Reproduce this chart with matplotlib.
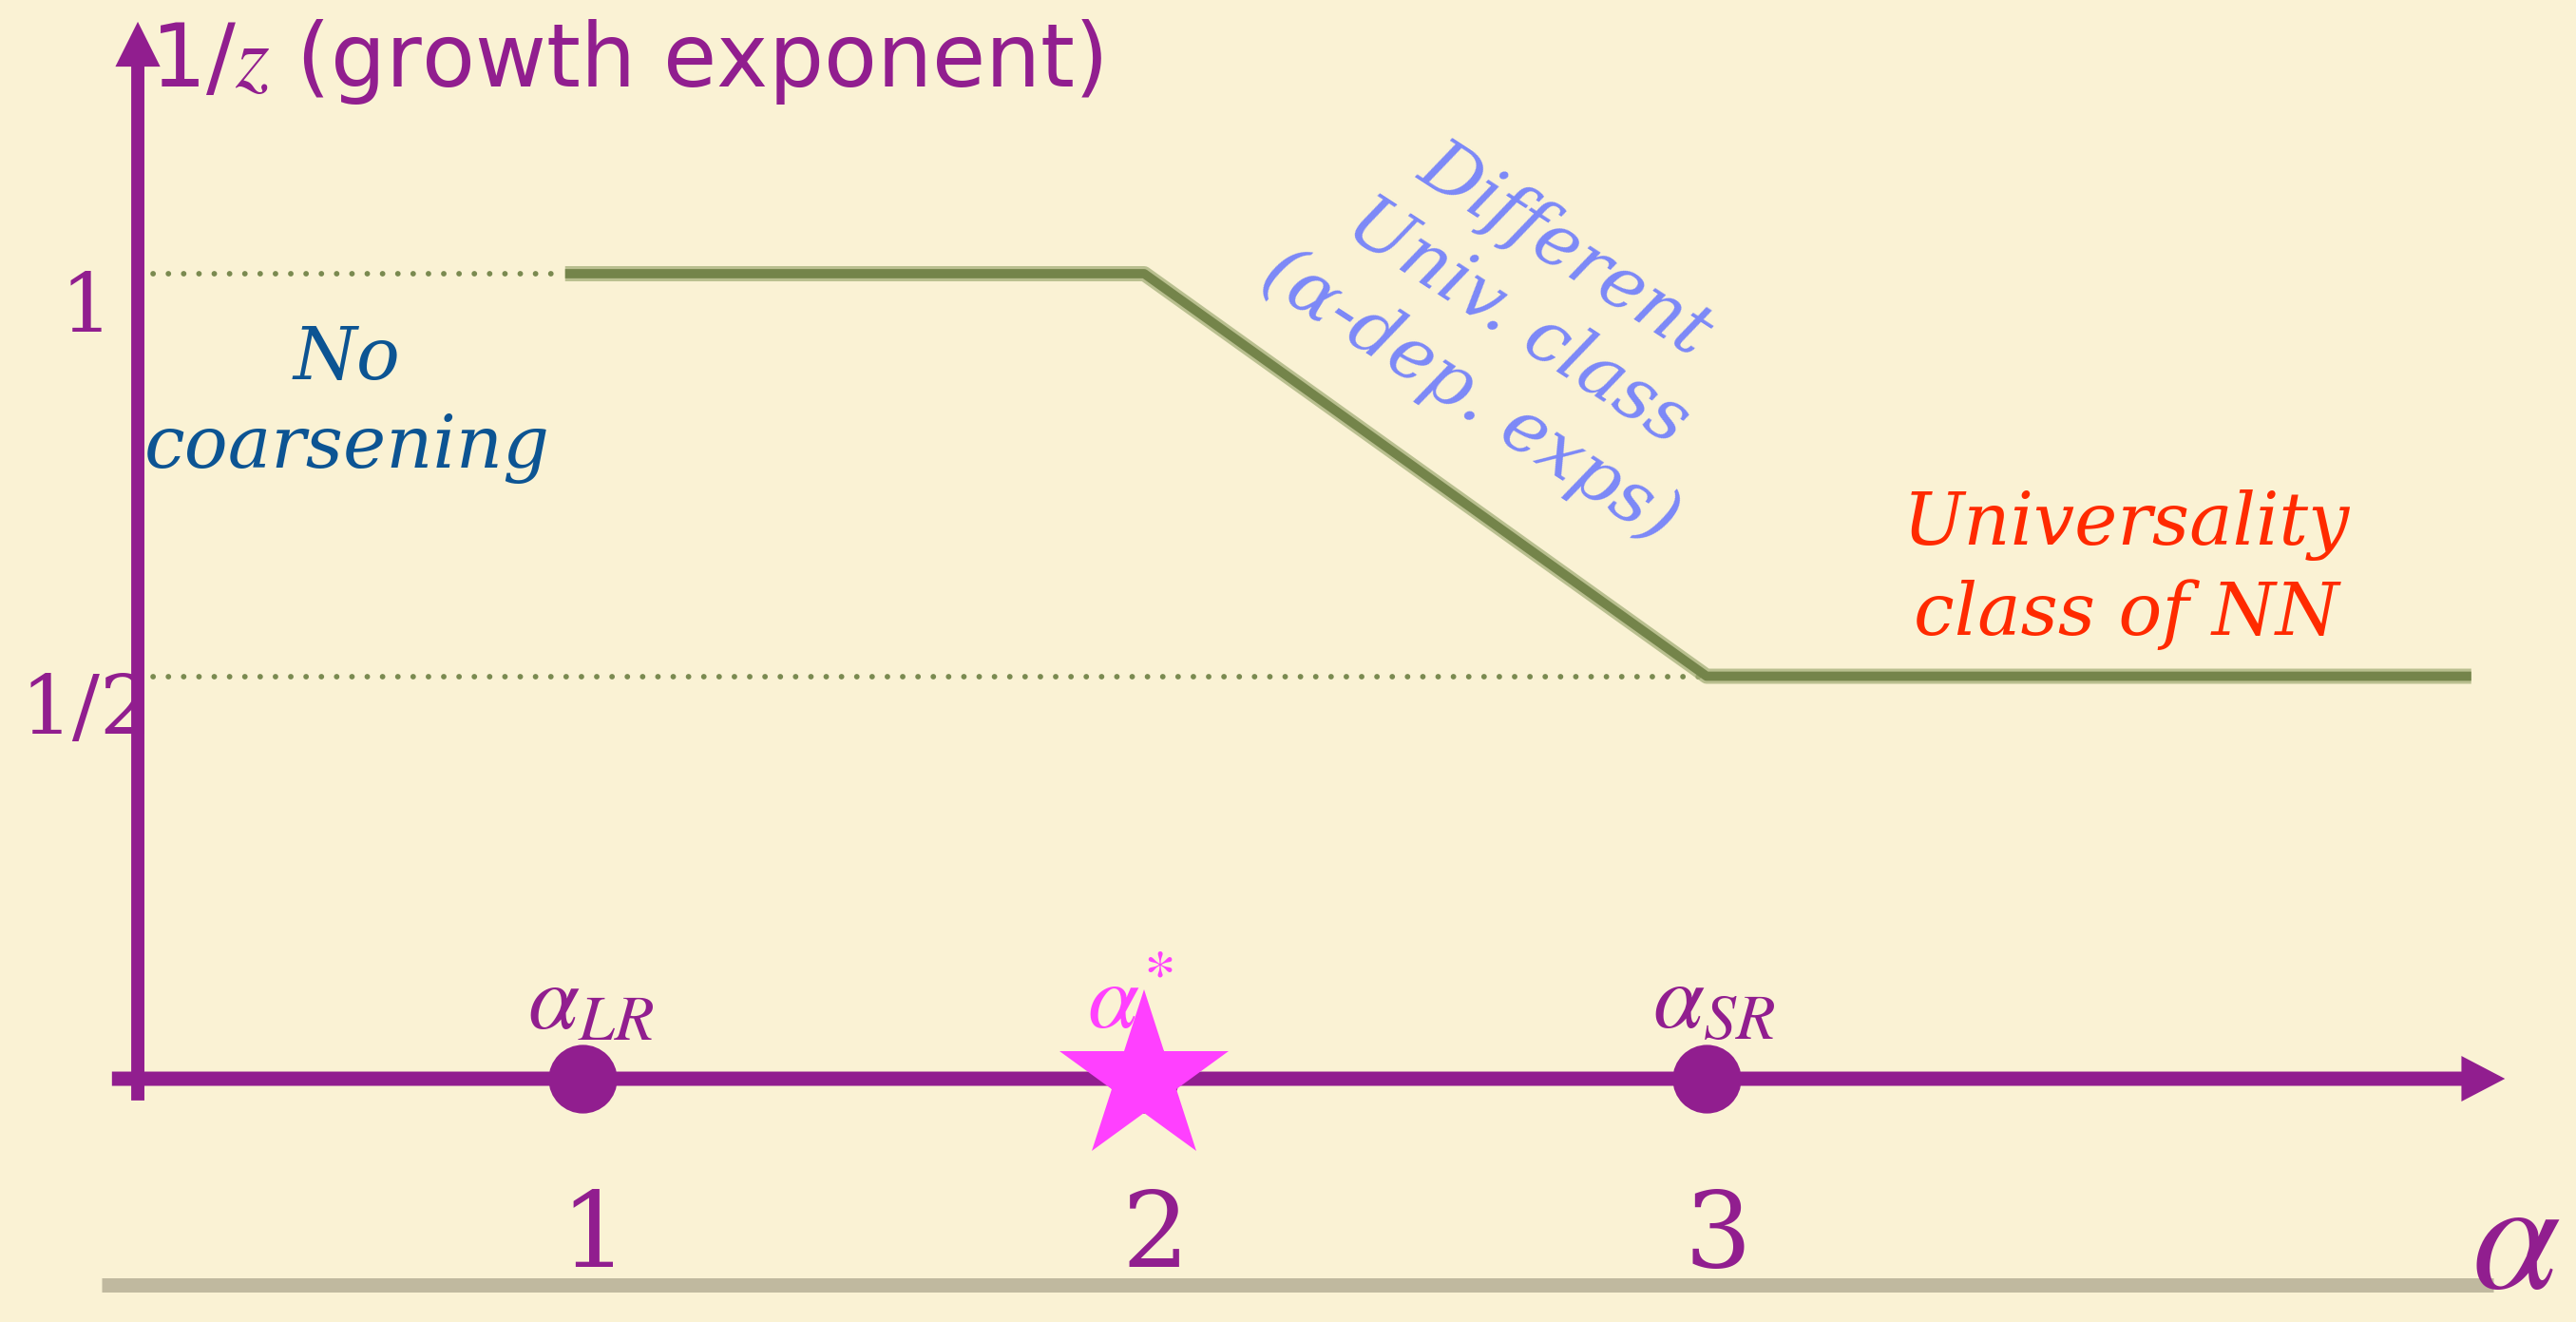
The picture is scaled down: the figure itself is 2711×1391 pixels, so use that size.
import matplotlib
matplotlib.use("Agg")
import matplotlib.pyplot as plt
from matplotlib.patches import FancyArrowPatch, ArrowStyle

# special points on the alpha axis
alpha_points = [1, 2, 3]
point_labels = [r"$\alpha_{LR}$", r"$\alpha^{*}$", r"$\alpha_{SR}$"]
star_alpha = [2]
star_level = [0]

alpha_ticks = [1, 2, 3]
alpha_tick_labels = ["1", "2", "3"]

# growth exponent 1/z versus alpha
curve_alpha = [0.97, 2.0, 3.0, 4.36]
curve_inv_z = [1.0, 1.0, 0.5, 0.5]

level_ticks = [1.0, 0.5]
level_tick_labels = ["1", "1/2"]

PURPLE = "#911E8F"
MAGENTA = "#FF40FF"
BG = "#FAF2D4"

plt.rcParams["mathtext.fontset"] = "stix"

fig = plt.figure(figsize=(27.11, 13.91), dpi=100, facecolor=BG)
ax = fig.add_axes([0, 0, 1, 1])
ax.set_xlim(-0.0351, 4.5463)
ax.set_ylim(-0.3022, 1.3400)
ax.axis("off")

y_axis_x = 0.21


def axis_arrow(start, end, shaft, head_w, head_l):
    style = ArrowStyle.Simple(head_length=head_l, head_width=head_w, tail_width=shaft)
    ax.add_patch(FancyArrowPatch(start, end, arrowstyle=style, mutation_scale=1,
                                 lw=0, color=PURPLE, shrinkA=0, shrinkB=0, zorder=3))


# axes drawn as arrows
axis_arrow((0.164, 0), (4.42, 0), 10.8, 34.5, 33)
axis_arrow((y_axis_x, -0.027), (y_axis_x, 1.313), 10, 34, 34)

# footer rule
ax.plot([0.146, 4.399], [-0.2562, -0.2562], color="#C0B99F", lw=10.8,
        solid_capstyle="butt", zorder=1)

# dotted guides from the y axis to the plateaus
for i in (0, 2):
    ax.plot([y_axis_x, curve_alpha[i]], [curve_inv_z[i]] * 2, color="#7A8A50",
            lw=4.2, dashes=(0.01, 2.75), dash_capstyle="round", zorder=2)

# the growth exponent curve (chalky look: soft halo + core)
ax.plot(curve_alpha, curve_inv_z, color="#A4AF78", lw=11.5, alpha=0.75,
        solid_capstyle="butt", zorder=2)
ax.plot(curve_alpha, curve_inv_z, color="#74844A", lw=7,
        solid_capstyle="butt", zorder=2)

# points on the alpha axis
ax.plot(alpha_points, [0] * len(alpha_points), "o", ms=52, color=PURPLE, mew=0, zorder=4)
ax.plot(star_alpha, star_level, marker="*", ms=135, color=MAGENTA, mew=0,
        linestyle="none", zorder=5)

label_dx = [0.015, -0.024, 0.013]
label_colors = [PURPLE, MAGENTA, PURPLE]
for a, lab, dx, col in zip(alpha_points, point_labels, label_dx, label_colors):
    ax.text(a + dx, 0.0626, lab, color=col, fontsize=70, ha="center", va="baseline", zorder=6)

for a, lab in zip(alpha_ticks, alpha_tick_labels):
    ax.text(a + 0.02, -0.234, lab, color=PURPLE, fontsize=80, family="DejaVu Serif",
            ha="center", va="baseline")

for v, lab in zip(level_ticks, level_tick_labels):
    ax.text(0.118, v - 0.072, lab, color=PURPLE, fontsize=62, family="DejaVu Serif",
            ha="center", va="baseline")

ax.text(0.232, 1.2326, "1/$z$ (growth exponent)", color=PURPLE, fontsize=66,
        family="DejaVu Sans", ha="left", va="baseline")
ax.text(4.36, -0.3005, r"$\alpha$", color=PURPLE, fontsize=120, ha="left", va="bottom")

# regime annotations
ax.text(0.582, 0.838, "No\ncoarsening", color="#0C5493", fontsize=55,
        family="DejaVu Serif", style="italic", ha="center", va="center", linespacing=1.32)
ax.text(3.747, 0.632, "Universality\nclass of NN", color="#FF2A00", fontsize=55,
        family="DejaVu Serif", style="italic", ha="center", va="center", linespacing=1.32)
ax.text(2.664, 0.9386, "Different\nUniv. class\n(α-dep. exps)", color="#7C88F8",
        fontsize=55, family="DejaVu Serif", style="italic", rotation=-33,
        rotation_mode="anchor", ha="center", va="center", multialignment="center",
        linespacing=1.3)

fig.savefig("out.png", dpi=100, facecolor=BG)
